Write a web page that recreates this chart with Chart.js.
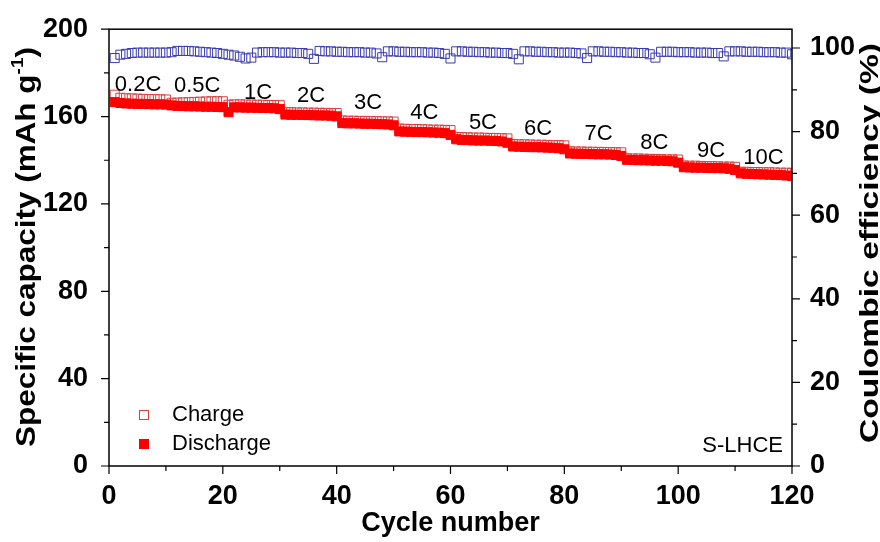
<!DOCTYPE html>
<html>
<head>
<meta charset="utf-8">
<script src="https://cdn.jsdelivr.net/npm/chart.js@4.4.0/dist/chart.umd.min.js"></script>
<style>
  html, body { margin: 0; padding: 0; background: #fff; }
  #wrap { width: 880px; height: 542px; }
</style>
</head>
<body>
<div id="wrap"><canvas id="chart-rate"></canvas></div>
<script>
// cycle numbers 1..120
var cycles = [];
for (var c = 1; c <= 120; c++) cycles.push(c);

var chargeCap = [
    170.0, 168.6, 168.4, 168.3, 168.2, 168.1, 168.0, 168.0, 167.9, 167.8,
    166.3, 166.4, 166.5, 166.6, 166.7, 166.8, 166.9, 167.0, 167.0, 167.0,
    165.4, 165.6, 165.6, 165.5, 165.5, 165.4, 165.4, 165.3, 165.3, 165.2,
    162.0, 162.0, 161.9, 161.9, 161.8, 161.8, 161.7, 161.7, 161.6, 161.6,
    158.2, 158.1, 158.1, 158.0, 158.0, 157.9, 157.9, 157.8, 157.8, 157.7,
    154.5, 154.4, 154.3, 154.3, 154.2, 154.1, 154.0, 154.0, 153.9, 153.8,
    150.7, 150.6, 150.5, 150.4, 150.4, 150.3, 150.2, 150.2, 150.1, 150.0,
    147.4, 147.3, 147.3, 147.2, 147.1, 147.1, 147.0, 146.9, 146.9, 146.8,
    144.1, 144.0, 144.0, 143.9, 143.9, 143.8, 143.8, 143.7, 143.7, 143.6,
    140.9, 140.8, 140.8, 140.7, 140.6, 140.6, 140.5, 140.4, 140.4, 140.3,
    137.6, 137.5, 137.5, 137.4, 137.3, 137.3, 137.2, 137.1, 137.1, 137.0,
    134.7, 134.7, 134.6, 134.6, 134.5, 134.5, 134.4, 134.3, 134.3, 134.2
];

var dischargeCap = [
    166.6, 166.2, 166.0, 165.9, 165.8, 165.8, 165.7, 165.6, 165.6, 165.5,
    165.1, 164.9, 164.8, 164.7, 164.7, 164.6, 164.5, 164.5, 164.4, 164.3,
    162.0, 164.2, 164.2, 164.1, 164.1, 164.0, 163.9, 163.9, 163.8, 163.4,
    160.9, 160.8, 160.8, 160.7, 160.7, 160.6, 160.5, 160.5, 160.4, 160.1,
    157.0, 156.9, 156.9, 156.8, 156.7, 156.7, 156.6, 156.5, 156.4, 156.0,
    153.2, 153.1, 153.0, 152.9, 152.9, 152.8, 152.7, 152.6, 152.4, 151.6,
    149.6, 149.3, 149.2, 149.1, 149.0, 149.0, 148.9, 148.8, 148.6, 148.0,
    146.3, 146.2, 146.1, 146.0, 146.0, 145.9, 145.8, 145.7, 145.5, 145.0,
    143.1, 143.0, 142.9, 142.9, 142.8, 142.7, 142.7, 142.6, 142.4, 142.0,
    140.2, 140.1, 140.0, 140.0, 139.9, 139.8, 139.8, 139.7, 139.5, 138.9,
    136.8, 136.7, 136.6, 136.6, 136.5, 136.4, 136.4, 136.3, 136.1, 135.5,
    134.0, 133.8, 133.7, 133.6, 133.5, 133.4, 133.3, 133.2, 133.0, 132.8
];

var coulombicEff = [
    97.6, 98.4, 98.6, 98.8, 98.9, 98.9, 98.9, 98.9, 98.9, 98.9,
    99.0, 99.3, 99.3, 99.3, 99.2, 99.1, 99.0, 98.9, 98.8, 98.6,
    98.4, 98.2, 97.9, 97.5, 97.7, 98.9, 99.0, 99.0, 99.0, 98.9,
    98.9, 98.9, 98.8, 98.8, 98.6, 97.4, 99.3, 99.2, 99.2, 99.1,
    99.1, 99.0, 99.0, 99.0, 98.9, 98.9, 98.7, 97.8, 99.2, 99.2,
    99.1, 99.1, 99.0, 99.0, 99.0, 98.9, 98.9, 98.8, 98.6, 97.5,
    99.2, 99.2, 99.1, 99.1, 99.0, 99.0, 98.9, 98.9, 98.8, 98.8,
    98.6, 97.3, 99.2, 99.2, 99.1, 99.1, 99.0, 99.0, 98.9, 98.9,
    98.9, 98.8, 98.7, 97.6, 99.2, 99.2, 99.1, 99.1, 99.0, 99.0,
    98.9, 98.9, 98.8, 98.8, 98.5, 97.7, 99.1, 99.1, 99.1, 99.0,
    99.0, 99.0, 98.9, 98.9, 98.9, 98.8, 98.8, 98.0, 99.2, 99.2,
    99.2, 99.1, 99.1, 99.1, 99.0, 99.0, 99.0, 98.9, 98.9, 98.5
];

// C-rate annotations (text, cycle position, capacity position)
var rateLabels = ["0.2C", "0.5C", "1C", "2C", "3C", "4C", "5C", "6C", "7C", "8C", "9C", "10C"];
var rateLabelX = [5.1, 15.5, 26.2, 35.5, 45.5, 55.4, 65.7, 75.4, 86.0, 95.8, 105.8, 115.0];
var rateLabelY = [174.5, 174.0, 171.0, 169.3, 166.4, 161.8, 157.3, 154.3, 152.0, 147.9, 144.3, 141.1];

var xTicks = [0, 20, 40, 60, 80, 100, 120];
var capTicks = [0, 40, 80, 120, 160, 200];
var ceTicks = [0, 20, 40, 60, 80, 100];

function toPoints(ys) {
    return cycles.map(function (x, i) { return { x: x, y: ys[i] }; });
}

var FONT = "Arial, 'Liberation Sans', sans-serif";

// rotated axis title, stretched along its length like the original figure
function drawVTitle(ctx, parts, baseX, midY, length, size) {
    var supSize = Math.round(size * 0.6);
    var total = 0;
    parts.forEach(function (p) {
        ctx.font = "bold " + (p.sup ? supSize : size) + "px " + FONT;
        p.w = ctx.measureText(p.text).width;
        total += p.w;
    });
    ctx.save();
    ctx.translate(baseX, midY);
    ctx.rotate(-Math.PI / 2);
    ctx.scale(length / total, 1);
    ctx.fillStyle = "#000";
    ctx.textAlign = "left";
    ctx.textBaseline = "alphabetic";
    var x = -total / 2;
    parts.forEach(function (p) {
        ctx.font = "bold " + (p.sup ? supSize : size) + "px " + FONT;
        ctx.fillText(p.text, x, p.sup ? -size * 0.42 : 0);
        x += p.w;
    });
    ctx.restore();
}

// frame, tick marks, annotations, legend and y titles
var decorPlugin = {
    id: "decor",
    afterDatasetsDraw: function (chart) {
        var ctx = chart.ctx;
        var a = chart.chartArea;
        var sx = chart.scales.x, sy = chart.scales.y, sy1 = chart.scales.y1;
        ctx.save();
        ctx.strokeStyle = "#000";
        ctx.lineWidth = 1.5;
        ctx.strokeRect(a.left, a.top, a.right - a.left, a.bottom - a.top);

        ctx.lineWidth = 1.2;
        ctx.beginPath();
        for (var v = 0; v <= 120; v += 10) {
            var px = sx.getPixelForValue(v);
            var len = v % 20 === 0 ? 8 : 5;
            ctx.moveTo(px, a.bottom);
            ctx.lineTo(px, a.bottom + len);
        }
        for (var w = 0; w <= 200; w += 20) {
            var py = sy.getPixelForValue(w);
            var l2 = w % 40 === 0 ? 8 : 5;
            ctx.moveTo(a.left, py);
            ctx.lineTo(a.left - l2, py);
        }
        for (var e = 0; e <= 100; e += 10) {
            var pe = sy1.getPixelForValue(e);
            var l3 = e % 20 === 0 ? 8 : 5;
            ctx.moveTo(a.right, pe);
            ctx.lineTo(a.right + l3, pe);
        }
        ctx.stroke();

        // rate labels
        ctx.fillStyle = "#000";
        ctx.font = "22px " + FONT;
        ctx.textAlign = "center";
        ctx.textBaseline = "middle";
        rateLabels.forEach(function (t, i) {
            ctx.fillText(t, sx.getPixelForValue(rateLabelX[i]), sy.getPixelForValue(rateLabelY[i]));
        });

        // sample name
        ctx.textAlign = "right";
        ctx.fillText("S-LHCE", a.right - 9, a.bottom - 20);

        // legend
        var lx = a.left + 35, ly = a.bottom - 51;
        ctx.textAlign = "left";
        ctx.lineWidth = 1;
        ctx.strokeStyle = "#d84040";
        ctx.strokeRect(lx - 4.5, ly - 4.5, 9, 9);
        ctx.fillText("Charge", lx + 28, ly);
        ctx.fillStyle = "#ff0000";
        ctx.fillRect(lx - 5, ly + 24, 10, 10);
        ctx.fillStyle = "#000";
        ctx.fillText("Discharge", lx + 28, ly + 29);
        ctx.restore();

        // y axis titles
        drawVTitle(ctx, [{ text: "Specific capacity (mAh g" }, { text: "-1", sup: true }, { text: ")" }],
            35, 247, 400, 28);
        drawVTitle(ctx, [{ text: "Coulombic efficiency (%)" }], 878, 243, 400, 26);
    }
};

var ctx = document.getElementById("chart-rate").getContext("2d");

new Chart(ctx, {
    type: "scatter",
    data: {
        datasets: [
            {
                label: "Discharge",
                data: toPoints(dischargeCap),
                yAxisID: "y",
                pointStyle: "rect",
                pointRadius: 6.4,
                pointBorderWidth: 1,
                pointBackgroundColor: "#ff0000",
                pointBorderColor: "#ff0000",
                order: 1
            },
            {
                label: "Charge",
                data: toPoints(chargeCap),
                yAxisID: "y",
                pointStyle: "rect",
                pointRadius: 6.4,
                pointBorderWidth: 1,
                pointBackgroundColor: "rgba(0,0,0,0)",
                pointBorderColor: "#d84040",
                order: 2
            },
            {
                label: "Coulombic efficiency",
                data: toPoints(coulombicEff),
                yAxisID: "y1",
                pointStyle: "rect",
                pointRadius: 6.4,
                pointBorderWidth: 1,
                pointBackgroundColor: "rgba(0,0,0,0)",
                pointBorderColor: "#3a3ab0",
                order: 3
            }
        ]
    },
    options: {
        responsive: true,
        maintainAspectRatio: false,
        animation: false,
        layout: { padding: { top: 26, left: 0, right: 0, bottom: 0 } },
        plugins: {
            legend: { display: false },
            tooltip: { enabled: false }
        },
        scales: {
            x: {
                type: "linear",
                min: 0,
                max: 120,
                afterFit: function (scale) { scale.height = 76; },
                afterBuildTicks: function (scale) {
                    scale.ticks = xTicks.map(function (v) { return { value: v }; });
                },
                grid: { display: false },
                border: { display: false },
                ticks: {
                    padding: 6,
                    color: "#000",
                    maxRotation: 0,
                    font: { size: 27, weight: "bold", family: FONT }
                },
                title: {
                    display: true,
                    text: "Cycle number",
                    color: "#000",
                    padding: { top: 0, bottom: 2 },
                    font: { size: 27, weight: "bold", family: FONT }
                }
            },
            y: {
                position: "left",
                min: 0,
                max: 200,
                afterFit: function (scale) { scale.width = 109; },
                afterBuildTicks: function (scale) {
                    scale.ticks = capTicks.map(function (v) { return { value: v }; });
                },
                grid: { display: false },
                border: { display: false },
                ticks: {
                    padding: 13,
                    color: "#000",
                    font: { size: 27, weight: "bold", family: FONT }
                },
                title: { display: false }
            },
            y1: {
                position: "right",
                min: 0,
                max: 104.5,
                afterFit: function (scale) { scale.width = 88; },
                afterBuildTicks: function (scale) {
                    scale.ticks = ceTicks.map(function (v) { return { value: v }; });
                },
                grid: { display: false },
                border: { display: false },
                ticks: {
                    padding: 10,
                    color: "#000",
                    font: { size: 27, weight: "bold", family: FONT }
                },
                title: { display: false }
            }
        }
    },
    plugins: [decorPlugin]
});
</script>
</body>
</html>
